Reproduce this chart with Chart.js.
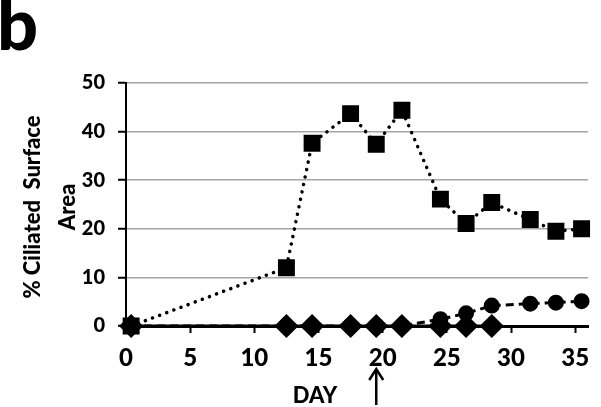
<!DOCTYPE html>
<html>
<head>
<meta charset="utf-8">
<script src="https://cdn.jsdelivr.net/npm/chart.js@4.4.1/dist/chart.umd.min.js"></script>
<style>
  html, body { margin: 0; padding: 0; background: #fff; }
  #wrap { width: 601px; height: 407px; }
</style>
</head>
<body>
<div id="wrap"><canvas id="myChart" width="601" height="407"></canvas></div>
<script>
// days as they sit on the plot (markers are drawn about half a day right of the ticks)
const daysSquare = [0.4, 12.5, 14.5, 17.5, 19.5, 21.5, 24.5, 26.5, 28.5, 31.5, 33.5, 35.5];
const valSquare  = [0, 12.0, 37.6, 43.7, 37.4, 44.4, 26.1, 21.1, 25.4, 21.9, 19.5, 20.0];

const daysCircle = [0.4, 12.5, 14.5, 17.5, 19.5, 21.5, 24.5, 26.5, 28.5, 31.5, 33.5, 35.5];
const valCircle  = [0, 0, 0, 0, 0, 0, 1.4, 2.6, 4.2, 4.6, 4.8, 5.1];

const daysDiamond = [0.4, 12.5, 14.5, 17.5, 19.5, 21.5, 24.5, 26.5, 28.5];
const valDiamond  = [0, 0, 0, 0, 0, 0, 0, 0, 0];

const xTicks = [0, 5, 10, 15, 20, 25, 30, 35];
const yTicks = [0, 10, 20, 30, 40, 50];
const arrowDay = 19.5;

function pts(xs, ys) {
  var out = [];
  for (let i = 0; i < xs.length; i++) out.push({x: xs[i], y: ys[i]});
  return out;
}

const FONT = 'Lato, "Open Sans", sans-serif';

const textPlugin = {
  id: 'texts',
  afterDraw(chart) {
    const ctx = chart.ctx;
    const xs = chart.scales.x;
    ctx.save();
    ctx.fillStyle = '#000';
    ctx.textAlign = 'left';
    ctx.textBaseline = 'alphabetic';
    ctx.font = '900 72px ' + FONT;
    ctx.fillText('b', -3, 50);

    ctx.textAlign = 'center';
    ctx.textBaseline = 'middle';
    ctx.font = '900 22px ' + FONT;
    ctx.fillText('DAY', 315, 396);

    // arrow marking the day
    const ax = xs.getPixelForValue(arrowDay);
    ctx.strokeStyle = '#000';
    ctx.lineWidth = 2.5;
    ctx.beginPath();
    ctx.moveTo(ax, 405);
    ctx.lineTo(ax, 370);
    ctx.stroke();
    ctx.beginPath();
    ctx.moveTo(ax - 7, 380);
    ctx.lineTo(ax, 369);
    ctx.lineTo(ax + 7, 380);
    ctx.stroke();

    ctx.translate(0, 207);
    ctx.rotate(-Math.PI / 2);
    ctx.font = '900 22px ' + FONT;
    ctx.fillText('% Ciliated  Surface', 0, 33);
    ctx.fillText('Area', 0, 68);
    ctx.restore();
  }
};

new Chart(document.getElementById('myChart').getContext('2d'), {
  type: 'scatter',
  data: {
    datasets: [
      {
        label: 'squares',
        data: pts(daysSquare, valSquare),
        showLine: true,
        borderColor: '#000',
        backgroundColor: '#000',
        borderWidth: 3.5,
        borderDash: [0.1, 7.5],
        borderCapStyle: 'round',
        pointStyle: 'rect',
        pointRadius: 9.5,
        pointHoverRadius: 9.5,
        clip: false,
        order: 1
      },
      {
        label: 'diamonds',
        data: pts(daysDiamond, valDiamond),
        showLine: true,
        borderColor: '#000',
        backgroundColor: '#000',
        borderWidth: 3,
        pointStyle: 'rectRot',
        pointRadius: 10,
        pointHoverRadius: 10,
        clip: false,
        order: 2
      },
      {
        label: 'circles',
        data: pts(daysCircle, valCircle),
        showLine: true,
        borderColor: '#000',
        backgroundColor: '#000',
        borderWidth: 3,
        borderDash: [8, 5],
        pointStyle: 'circle',
        pointRadius: 6.5,
        pointHoverRadius: 6.5,
        clip: false,
        order: 3
      }
    ]
  },
  options: {
    responsive: false,
    animation: false,
    layout: { padding: { left: 0, right: 6, top: 83, bottom: 0 } },
    plugins: { legend: { display: false }, tooltip: { enabled: false } },
    scales: {
      x: {
        type: 'linear',
        min: 0,
        max: 36,
        afterBuildTicks: function(s) { s.ticks = xTicks.map(v => ({value: v})); },
        afterFit: function(s) { s.height = 407 - 326; },
        border: { display: true, color: '#000', width: 3 },
        grid: { drawOnChartArea: false, drawTicks: true, tickLength: 7, tickColor: '#000', tickWidth: 2 },
        ticks: { color: '#000', font: { family: FONT, size: 24, weight: '900' }, padding: 11, maxRotation: 0 }
      },
      y: {
        min: 0,
        max: 50,
        afterBuildTicks: function(s) { s.ticks = yTicks.map(v => ({value: v})); },
        afterFit: function(s) { s.width = 126; },
        border: { display: true, color: '#000', width: 2 },
        grid: { color: '#a6a6a6', lineWidth: 1.5, drawTicks: true, tickLength: 8, tickColor: '#000', tickWidth: 2 },
        ticks: { color: '#000', font: { family: FONT, size: 20, weight: '900' }, padding: 13 }
      }
    }
  },
  plugins: [textPlugin]
});
</script>
</body>
</html>
